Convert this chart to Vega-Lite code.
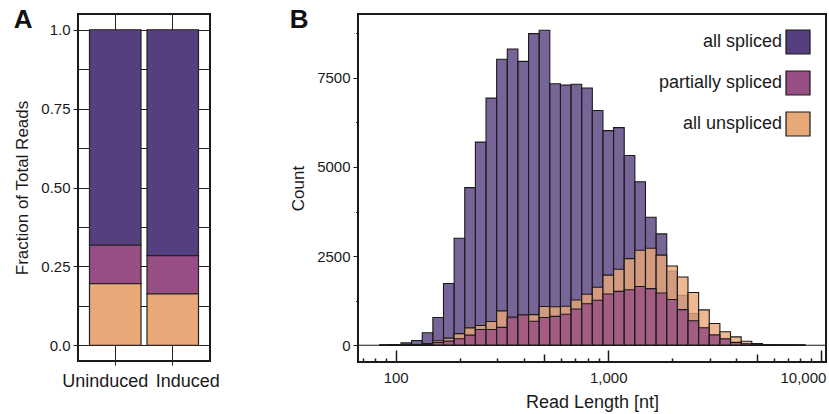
{
  "$schema": "https://vega.github.io/schema/vega-lite/v6.json",
  "background": "white",
  "padding": {"left": 12, "top": 6, "right": 2, "bottom": 2},
  "bounds": "flush",
  "spacing": 148,
  "config": {
    "font": "Liberation Sans",
    "view": {"stroke": "#1a1a1a", "strokeWidth": 2},
    "axis": {"domain": false, "labelColor": "#1a1a1a", "titleColor": "#1a1a1a", "tickColor": "#1a1a1a", "titleFontWeight": "normal", "labelFont": "Liberation Sans", "titleFont": "Liberation Sans"},
    "title": {"font": "Liberation Sans", "fontWeight": "bold", "fontSize": 26, "color": "#111111", "anchor": "start", "frame": "bounds"}
  },
  "datasets": {
    "frac": [
      {"condition": "Uninduced", "type": "all spliced", "rank": 3, "frac": 0.683},
      {"condition": "Uninduced", "type": "partially spliced", "rank": 2, "frac": 0.122},
      {"condition": "Uninduced", "type": "all unspliced", "rank": 1, "frac": 0.195},
      {"condition": "Induced", "type": "all spliced", "rank": 3, "frac": 0.716},
      {"condition": "Induced", "type": "partially spliced", "rank": 2, "frac": 0.121},
      {"condition": "Induced", "type": "all unspliced", "rank": 1, "frac": 0.163}
    ],
    "hist": [
      {"lo":84.14,"hi":94.41,"type":"all spliced","count":15},
      {"lo":94.41,"hi":105.93,"type":"all spliced","count":20},
      {"lo":105.93,"hi":118.85,"type":"all spliced","count":65},
      {"lo":118.85,"hi":133.35,"type":"all spliced","count":135},
      {"lo":133.35,"hi":149.62,"type":"all spliced","count":350},
      {"lo":149.62,"hi":167.88,"type":"all spliced","count":778},
      {"lo":167.88,"hi":188.36,"type":"all spliced","count":1733},
      {"lo":188.36,"hi":211.35,"type":"all spliced","count":3000},
      {"lo":211.35,"hi":237.14,"type":"all spliced","count":4420},
      {"lo":237.14,"hi":266.07,"type":"all spliced","count":5697},
      {"lo":266.07,"hi":298.54,"type":"all spliced","count":6930},
      {"lo":298.54,"hi":334.97,"type":"all spliced","count":8020},
      {"lo":334.97,"hi":375.84,"type":"all spliced","count":8310},
      {"lo":375.84,"hi":421.70,"type":"all spliced","count":7960},
      {"lo":421.70,"hi":473.15,"type":"all spliced","count":8740},
      {"lo":473.15,"hi":530.88,"type":"all spliced","count":8835},
      {"lo":530.88,"hi":595.66,"type":"all spliced","count":7335},
      {"lo":595.66,"hi":668.34,"type":"all spliced","count":7295},
      {"lo":668.34,"hi":749.89,"type":"all spliced","count":7320},
      {"lo":749.89,"hi":841.40,"type":"all spliced","count":7213},
      {"lo":841.40,"hi":944.06,"type":"all spliced","count":6582},
      {"lo":944.06,"hi":1059.25,"type":"all spliced","count":6020},
      {"lo":1059.25,"hi":1188.50,"type":"all spliced","count":6104},
      {"lo":1188.50,"hi":1333.52,"type":"all spliced","count":5323},
      {"lo":1333.52,"hi":1496.24,"type":"all spliced","count":4587},
      {"lo":1496.24,"hi":1678.80,"type":"all spliced","count":3591},
      {"lo":1678.80,"hi":1883.65,"type":"all spliced","count":3122},
      {"lo":1883.65,"hi":2113.49,"type":"all spliced","count":2074},
      {"lo":2113.49,"hi":2371.37,"type":"all spliced","count":1398},
      {"lo":2371.37,"hi":2660.73,"type":"all spliced","count":890},
      {"lo":2660.73,"hi":2985.38,"type":"all spliced","count":470},
      {"lo":2985.38,"hi":3349.65,"type":"all spliced","count":240},
      {"lo":3349.65,"hi":3758.37,"type":"all spliced","count":110},
      {"lo":3758.37,"hi":4216.97,"type":"all spliced","count":50},
      {"lo":4216.97,"hi":4731.51,"type":"all spliced","count":45},
      {"lo":4731.51,"hi":5308.84,"type":"all spliced","count":25},
      {"lo":5308.84,"hi":5956.62,"type":"all spliced","count":12},
      {"lo":5956.62,"hi":6683.44,"type":"all spliced","count":10},
      {"lo":6683.44,"hi":7498.94,"type":"all spliced","count":8},
      {"lo":7498.94,"hi":8413.95,"type":"all spliced","count":5},
      {"lo":84.14,"hi":94.41,"type":"all unspliced","count":2},
      {"lo":94.41,"hi":105.93,"type":"all unspliced","count":4},
      {"lo":105.93,"hi":118.85,"type":"all unspliced","count":10},
      {"lo":118.85,"hi":133.35,"type":"all unspliced","count":20},
      {"lo":133.35,"hi":149.62,"type":"all unspliced","count":45},
      {"lo":149.62,"hi":167.88,"type":"all unspliced","count":125},
      {"lo":167.88,"hi":188.36,"type":"all unspliced","count":200},
      {"lo":188.36,"hi":211.35,"type":"all unspliced","count":325},
      {"lo":211.35,"hi":237.14,"type":"all unspliced","count":487},
      {"lo":237.14,"hi":266.07,"type":"all unspliced","count":555},
      {"lo":266.07,"hi":298.54,"type":"all unspliced","count":665},
      {"lo":298.54,"hi":334.97,"type":"all unspliced","count":964},
      {"lo":334.97,"hi":375.84,"type":"all unspliced","count":760},
      {"lo":375.84,"hi":421.70,"type":"all unspliced","count":840},
      {"lo":421.70,"hi":473.15,"type":"all unspliced","count":860},
      {"lo":473.15,"hi":530.88,"type":"all unspliced","count":1085},
      {"lo":530.88,"hi":595.66,"type":"all unspliced","count":1080},
      {"lo":595.66,"hi":668.34,"type":"all unspliced","count":1095},
      {"lo":668.34,"hi":749.89,"type":"all unspliced","count":1268},
      {"lo":749.89,"hi":841.40,"type":"all unspliced","count":1430},
      {"lo":841.40,"hi":944.06,"type":"all unspliced","count":1628},
      {"lo":944.06,"hi":1059.25,"type":"all unspliced","count":1966},
      {"lo":1059.25,"hi":1188.50,"type":"all unspliced","count":2130},
      {"lo":1188.50,"hi":1333.52,"type":"all unspliced","count":2430},
      {"lo":1333.52,"hi":1496.24,"type":"all unspliced","count":2664},
      {"lo":1496.24,"hi":1678.80,"type":"all unspliced","count":2720},
      {"lo":1678.80,"hi":1883.65,"type":"all unspliced","count":2528},
      {"lo":1883.65,"hi":2113.49,"type":"all unspliced","count":2224},
      {"lo":2113.49,"hi":2371.37,"type":"all unspliced","count":1915},
      {"lo":2371.37,"hi":2660.73,"type":"all unspliced","count":1480},
      {"lo":2660.73,"hi":2985.38,"type":"all unspliced","count":993},
      {"lo":2985.38,"hi":3349.65,"type":"all unspliced","count":608},
      {"lo":3349.65,"hi":3758.37,"type":"all unspliced","count":380},
      {"lo":3758.37,"hi":4216.97,"type":"all unspliced","count":235},
      {"lo":4216.97,"hi":4731.51,"type":"all unspliced","count":110},
      {"lo":4731.51,"hi":5308.84,"type":"all unspliced","count":50},
      {"lo":5308.84,"hi":5956.62,"type":"all unspliced","count":20},
      {"lo":5956.62,"hi":6683.44,"type":"all unspliced","count":15},
      {"lo":6683.44,"hi":7498.94,"type":"all unspliced","count":12},
      {"lo":7498.94,"hi":8413.95,"type":"all unspliced","count":10},
      {"lo":84.14,"hi":94.41,"type":"partially spliced","count":1},
      {"lo":94.41,"hi":105.93,"type":"partially spliced","count":2},
      {"lo":105.93,"hi":118.85,"type":"partially spliced","count":5},
      {"lo":118.85,"hi":133.35,"type":"partially spliced","count":10},
      {"lo":133.35,"hi":149.62,"type":"partially spliced","count":25},
      {"lo":149.62,"hi":167.88,"type":"partially spliced","count":75},
      {"lo":167.88,"hi":188.36,"type":"partially spliced","count":115},
      {"lo":188.36,"hi":211.35,"type":"partially spliced","count":180},
      {"lo":211.35,"hi":237.14,"type":"partially spliced","count":285},
      {"lo":237.14,"hi":266.07,"type":"partially spliced","count":440},
      {"lo":266.07,"hi":298.54,"type":"partially spliced","count":440},
      {"lo":298.54,"hi":334.97,"type":"partially spliced","count":500},
      {"lo":334.97,"hi":375.84,"type":"partially spliced","count":790},
      {"lo":375.84,"hi":421.70,"type":"partially spliced","count":855},
      {"lo":421.70,"hi":473.15,"type":"partially spliced","count":674},
      {"lo":473.15,"hi":530.88,"type":"partially spliced","count":778},
      {"lo":530.88,"hi":595.66,"type":"partially spliced","count":810},
      {"lo":595.66,"hi":668.34,"type":"partially spliced","count":870},
      {"lo":668.34,"hi":749.89,"type":"partially spliced","count":1015},
      {"lo":749.89,"hi":841.40,"type":"partially spliced","count":1165},
      {"lo":841.40,"hi":944.06,"type":"partially spliced","count":1260},
      {"lo":944.06,"hi":1059.25,"type":"partially spliced","count":1438},
      {"lo":1059.25,"hi":1188.50,"type":"partially spliced","count":1512},
      {"lo":1188.50,"hi":1333.52,"type":"partially spliced","count":1555},
      {"lo":1333.52,"hi":1496.24,"type":"partially spliced","count":1648},
      {"lo":1496.24,"hi":1678.80,"type":"partially spliced","count":1587},
      {"lo":1678.80,"hi":1883.65,"type":"partially spliced","count":1465},
      {"lo":1883.65,"hi":2113.49,"type":"partially spliced","count":1284},
      {"lo":2113.49,"hi":2371.37,"type":"partially spliced","count":998},
      {"lo":2371.37,"hi":2660.73,"type":"partially spliced","count":688},
      {"lo":2660.73,"hi":2985.38,"type":"partially spliced","count":492},
      {"lo":2985.38,"hi":3349.65,"type":"partially spliced","count":290},
      {"lo":3349.65,"hi":3758.37,"type":"partially spliced","count":178},
      {"lo":3758.37,"hi":4216.97,"type":"partially spliced","count":80},
      {"lo":4216.97,"hi":4731.51,"type":"partially spliced","count":40},
      {"lo":4731.51,"hi":5308.84,"type":"partially spliced","count":15},
      {"lo":5308.84,"hi":5956.62,"type":"partially spliced","count":5},
      {"lo":5956.62,"hi":6683.44,"type":"partially spliced","count":3},
      {"lo":6683.44,"hi":7498.94,"type":"partially spliced","count":2},
      {"lo":7498.94,"hi":8413.95,"type":"partially spliced","count":1}
    ]
  },
  "resolve": {"scale": {"color": "independent"}, "legend": {"color": "independent"}},
  "hconcat": [
    {
      "width": 132,
      "height": 347,
      "title": {"text": "A", "offset": -40, "baseline": "alphabetic"},
      "data": {"name": "frac"},
      "mark": {"type": "bar", "stroke": "#222222", "strokeWidth": 1.2},
      "encoding": {
        "x": {
          "field": "condition", "type": "nominal", "sort": ["Uninduced", "Induced"],
          "scale": {"paddingInner": 0.104, "paddingOuter": 0.2},
          "axis": {
            "title": null, "labelAngle": 0, "labelFontSize": 18, "grid": true, "gridColor": "#222222", "gridWidth": 1,
            "tickSize": 4, "labelPadding": 7,
            "labelOffset": {"condition": {"test": "datum.value === 'Uninduced'", "value": -10}, "value": 15}
          }
        },
        "y": {
          "field": "frac", "type": "quantitative", "stack": "zero",
          "scale": {"domain": [-0.05, 1.05], "nice": false, "zero": false},
          "axis": {
            "title": "Fraction of Total Reads", "titleFontSize": 17, "titlePadding": 9,
            "values": [0, 0.125, 0.25, 0.375, 0.5, 0.625, 0.75, 0.875, 1],
            "labelExpr": "datum.value == 1 ? '1.0' : datum.value == 0 ? '0.0' : ((datum.value * 4) % 1 == 0 ? format(datum.value, '.2f') : '')",
            "labelFontSize": 15, "tickSize": 5, "labelPadding": 3,
            "tickOpacity": {"condition": {"test": "(datum.value * 4) % 1 != 0", "value": 0}, "value": 1},
            "grid": true, "gridColor": "#222222", "gridWidth": 1
          }
        },
        "order": {"field": "rank", "type": "quantitative", "sort": "ascending"},
        "color": {
          "field": "type", "type": "nominal",
          "scale": {"domain": ["all spliced", "partially spliced", "all unspliced"], "range": ["#553f7e", "#974e85", "#e9a878"]},
          "legend": null
        }
      }
    },
    {
      "width": 468,
      "height": 348,
      "title": {"text": "B", "offset": -40, "baseline": "alphabetic"},
      "layer": [
        {
          "data": {"name": "hist"},
          "mark": {"type": "bar", "fillOpacity": 0.8, "stroke": "#1a1a1a", "strokeWidth": 1.1},
          "encoding": {
            "x": {
              "field": "lo", "type": "quantitative",
              "scale": {"type": "log", "domain": [66.5, 10570], "nice": false},
              "axis": {
                "title": "Read Length [nt]", "titleFontSize": 18, "titlePadding": 8,
                "values": [70, 80, 90, 100, 200, 300, 400, 500, 600, 700, 800, 900, 1000, 2000, 3000, 4000, 5000, 6000, 7000, 8000, 9000, 10000],
                "labelExpr": "datum.value == 100 || datum.value == 1000 || datum.value == 10000 ? format(datum.value, ',') : ''",
                "labelFontSize": 15, "labelPadding": 20, "labelFlush": 6, "labelFlushOffset": 5, "grid": false,
                "tickWidth": 1.5,
                "tickSize": {"expr": "(datum.value == 100 || datum.value == 1000 || datum.value == 10000) ? -12 : ((datum.value == 500 || datum.value == 5000) ? -8 : -4)"}
              }
            },
            "x2": {"field": "hi"},
            "y": {
              "field": "count", "type": "quantitative", "stack": null,
              "scale": {"domain": [-470, 9290], "nice": false, "zero": false},
              "axis": {
                "title": "Count", "titleFontSize": 17, "titlePadding": 9,
                "values": [0, 1250, 2500, 3750, 5000, 6250, 7500, 8750],
                "labelExpr": "datum.value % 2500 == 0 ? format(datum.value, 'd') : ''",
                "labelFontSize": 15, "labelPadding": 3, "grid": false,
                "tickSize": {"condition": {"test": "datum.value % 2500 != 0", "value": 2.5}, "value": 5}
              }
            },
            "y2": {"datum": 0},
            "color": {
              "field": "type", "type": "nominal",
              "scale": {"domain": ["all spliced", "partially spliced", "all unspliced"], "range": ["#553f7e", "#974e85", "#e9a878"]},
              "legend": {
                "title": null, "orient": "none", "legendX": 427, "legendY": 15, "direction": "vertical",
                "symbolType": "square", "symbolSize": 576, "symbolStrokeColor": "#1a1a1a", "symbolStrokeWidth": 1.2, "symbolOpacity": 1,
                "labelAlign": "right", "labelOffset": -29, "labelFontSize": 18, "labelFont": "Liberation Sans", "labelColor": "#1a1a1a",
                "rowPadding": 11, "labelLimit": 300
              }
            }
          }
        },
        {
          "data": {"values": [{}]},
          "mark": {"type": "rule", "color": "#1a1a1a", "strokeWidth": 1},
          "encoding": {"y": {"datum": 0}}
        }
      ]
    }
  ]
}
